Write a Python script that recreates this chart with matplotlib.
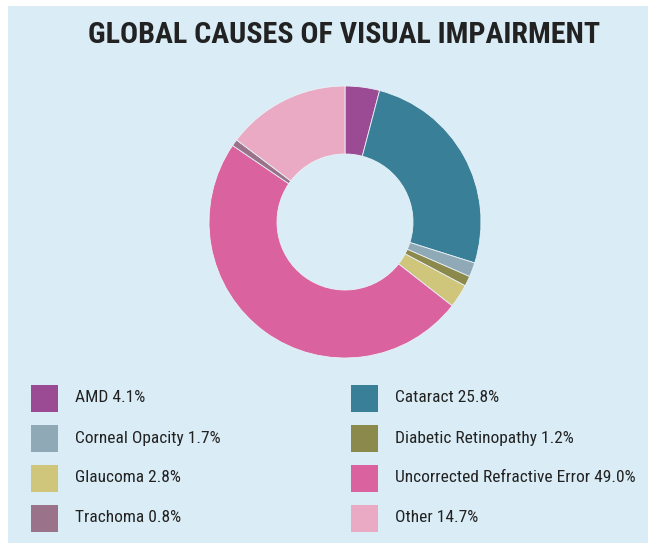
import matplotlib
matplotlib.use("Agg")
import matplotlib.pyplot as plt
from matplotlib.patches import Rectangle

categories = ["AMD", "Cataract", "Corneal Opacity", "Diabetic Retinopathy",
              "Glaucoma", "Uncorrected Refractive Error", "Trachoma", "Other"]
values = [4.1, 25.8, 1.7, 1.2, 2.8, 49.0, 0.8, 14.7]
colors = ["#9a4b94", "#3a7f98", "#8faab6", "#8c894c",
          "#cfc67c", "#da639f", "#9a7289", "#eaaac3"]
title = "GLOBAL CAUSES OF VISUAL IMPAIRMENT"

fam = ["Roboto Condensed", "Roboto", "DejaVu Sans"]

W, H = 648, 543
fig = plt.figure(figsize=(W / 100, H / 100), dpi=100)
fig.patch.set_facecolor("white")
bg = "#daedf6"
fig.add_artist(Rectangle((8 / W, 0), 1 - 8 / W, 1 - 6 / H, transform=fig.transFigure,
                         facecolor=bg, edgecolor="none", zorder=0))

fig.text(344 / W, 1 - 35 / H, title, ha="center", va="center", fontsize=21.6,
         fontweight="bold", family=fam, color="#222222")

cx, cy, r = 345, 222, 136
ax = fig.add_axes([(cx - r) / W, (H - cy - r) / H, 2 * r / W, 2 * r / H])
ax.pie(values, colors=colors, startangle=90, counterclock=False, radius=1,
       wedgeprops=dict(width=0.5, edgecolor="#e8f2f7", linewidth=0.6))
ax.set_xlim(-1, 1)
ax.set_ylim(-1, 1)
ax.set_aspect("equal")
ax.axis("off")

col_x = [31, 351]
text_x = [75, 395]
row_y = [398, 438, 478, 518]
sz = 27
for i, (cat, val, c) in enumerate(zip(categories, values, colors)):
    col = i % 2
    row = i // 2
    x0 = col_x[col]
    y0 = row_y[row]
    fig.add_artist(Rectangle((x0 / W, 1 - (y0 + sz / 2) / H), sz / W, sz / H,
                             transform=fig.transFigure, facecolor=c, edgecolor="none"))
    fig.text(text_x[col] / W, 1 - y0 / H, f"{cat} {val:.1f}%", ha="left", va="center",
             fontsize=12.5, family=fam, color="#222222")

fig.savefig("out.png", dpi=100)
